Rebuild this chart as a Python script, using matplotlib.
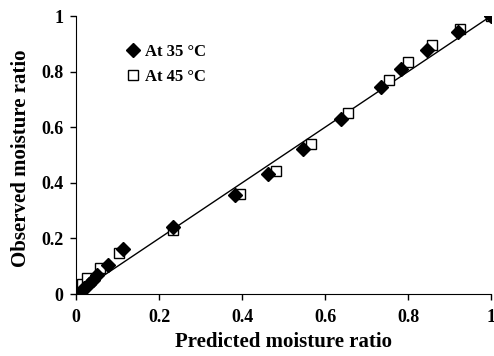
import matplotlib
matplotlib.use("Agg")
import matplotlib.pyplot as plt

x35 = [0.010, 0.015, 0.020, 0.030, 0.040, 0.050, 0.077, 0.113, 0.234, 0.383, 0.463, 0.548, 0.638, 0.735, 0.783, 0.845, 0.920, 1.000]
y35 = [0.000, 0.010, 0.020, 0.035, 0.050, 0.070, 0.104, 0.162, 0.241, 0.355, 0.432, 0.523, 0.628, 0.743, 0.809, 0.876, 0.942, 1.000]
x45 = [0.008, 0.014, 0.026, 0.058, 0.104, 0.234, 0.395, 0.482, 0.566, 0.656, 0.755, 0.799, 0.857, 0.925, 1.000]
y45 = [0.015, 0.036, 0.058, 0.094, 0.147, 0.230, 0.360, 0.442, 0.540, 0.651, 0.770, 0.834, 0.896, 0.953, 1.000]
ticks = [0, 0.2, 0.4, 0.6, 0.8, 1]
tick_labels = ["0", "0.2", "0.4", "0.6", "0.8", "1"]

plt.rcParams['font.family'] = ['Liberation Serif', 'DejaVu Serif']
plt.rcParams['font.weight'] = 'bold'

fig = plt.figure(figsize=(4.94, 3.56), dpi=100)
ax = fig.add_axes([0.154, 0.174, 0.84, 0.781])
ax.plot([0, 1], [0, 1], color='black', lw=1.0, zorder=1)
ax.plot(x45, y45, linestyle='none', marker='s', ms=7, mfc='white', mec='black', mew=1.0, label='At 45 °C', zorder=2)
ax.plot(x35, y35, linestyle='none', marker='D', ms=7, mfc='black', mec='black', label='At 35 °C', zorder=3)

ax.set_xlim(0, 1)
ax.set_ylim(0, 1)
ax.set_xticks(ticks)
ax.set_xticklabels(tick_labels)
ax.set_yticks(ticks)
ax.set_yticklabels(tick_labels)
ax.spines['top'].set_visible(False)
ax.spines['right'].set_visible(False)
ax.tick_params(direction='out', length=4, width=1, labelsize=13)
ax.tick_params(axis='x', pad=7)
ax.tick_params(axis='y', pad=5)
for lab in ax.get_xticklabels() + ax.get_yticklabels():
    lab.set_fontweight('bold')
ax.set_xlabel('Predicted moisture ratio', fontsize=15, fontweight='bold', labelpad=4)
ax.set_ylabel('Observed moisture ratio', fontsize=15, fontweight='bold')
ax.yaxis.set_label_coords(-0.108, 0.49)

h, l = ax.get_legend_handles_labels()
leg = ax.legend([h[1], h[0]], [l[1], l[0]], loc='upper left', bbox_to_anchor=(0.09, 0.955), frameon=False,
                handlelength=0.6, handletextpad=0.4, labelspacing=0.55, prop={'weight': 'bold', 'size': 12})
for lh in leg.legend_handles:
    lh.set_markersize(7)

fig.savefig('out.png', dpi=100)
